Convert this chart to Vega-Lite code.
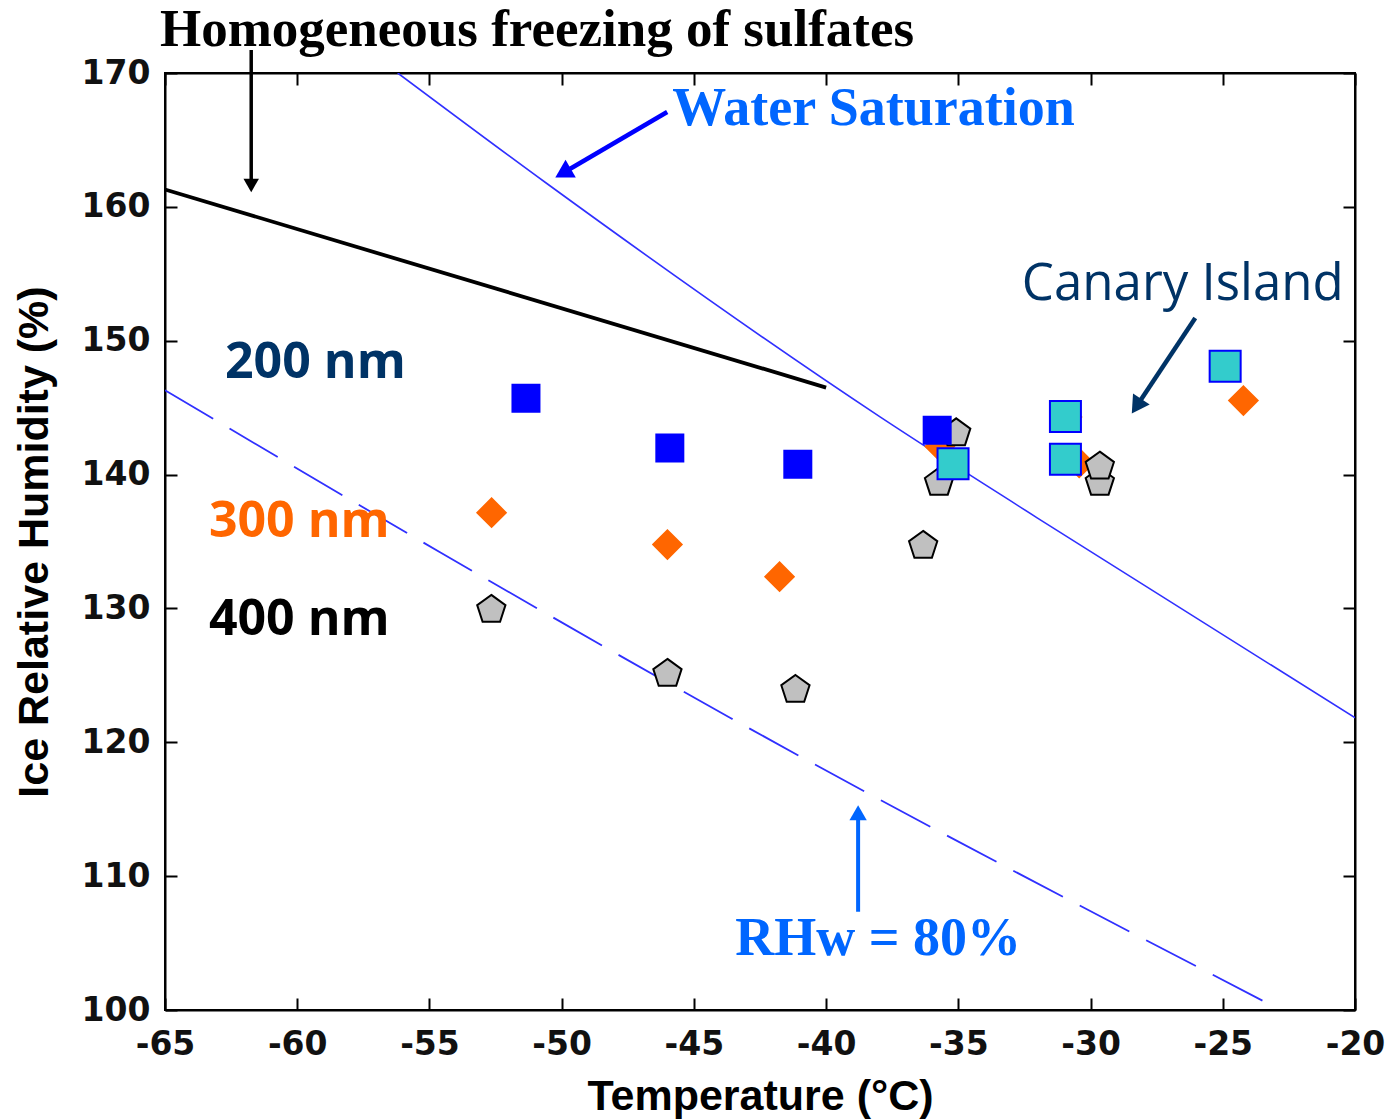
{
  "$schema": "https://vega.github.io/schema/vega-lite/v6.json",
  "width": 1190,
  "height": 937,
  "autosize": "none",
  "padding": {"left": 165, "top": 73, "right": 30, "bottom": 110},
  "background": "white",
  "config": {
    "view": {"stroke": "black", "strokeWidth": 2},
    "axis": {
      "grid": false,
      "domainColor": "black",
      "domainWidth": 2,
      "tickColor": "black",
      "tickWidth": 2,
      "tickSize": -12,
      "labelFlush": false,
      "labelOverlap": false,
      "labelFont": "DejaVu Sans",
      "labelFontSize": 33,
      "labelFontWeight": "bold",
      "labelColor": "#111111",
      "labelExpr": "toString(datum.value)",
      "titleFont": "Liberation Sans",
      "titleFontSize": 43,
      "titleFontWeight": "bold",
      "titleColor": "black"
    }
  },
  "resolve": {"axis": {"x": "independent", "y": "independent"}},
  "layer": [
    {
      "data": {"values": [{"T": -65, "RH": 161.3}, {"T": -40, "RH": 146.5}]},
      "mark": {"type": "line", "color": "black", "strokeWidth": 3.8},
      "encoding": {
        "x": {"field": "T", "type": "quantitative", "scale": {"domain": [-65, -20], "nice": false},
              "axis": {"orient": "top", "labels": false, "title": null, "values": [-65, -60, -55, -50, -45, -40, -35, -30, -25, -20]}},
        "y": {"field": "RH", "type": "quantitative", "scale": {"domain": [100, 170], "nice": false},
              "axis": {"orient": "right", "labels": false, "title": null, "values": [100, 110, 120, 130, 140, 150, 160, 170]}}
      }
    },
    {
      "data": {"values": [
        {"T": -56.2, "RH": 170.0},
        {"T": -50.6, "RH": 161.8},
        {"T": -37.96, "RH": 144.31},
        {"T": -32.02, "RH": 136.77},
        {"T": -20.0, "RH": 121.83}
      ]},
      "mark": {"type": "line", "color": "#3030ff", "strokeWidth": 1.6, "clip": true, "interpolate": "monotone"},
      "encoding": {
        "x": {"field": "T", "type": "quantitative", "axis": null},
        "y": {"field": "RH", "type": "quantitative", "axis": null}
      }
    },
    {
      "data": {"values": [
        {"T": -65.0, "RH": 146.3},
        {"T": -54.6, "RH": 134.2},
        {"T": -43.6, "RH": 121.8},
        {"T": -23.4, "RH": 100.6}
      ]},
      "mark": {"type": "line", "color": "#3030ff", "strokeWidth": 1.8, "strokeDash": [56, 19], "clip": true, "interpolate": "monotone"},
      "encoding": {
        "x": {"field": "T", "type": "quantitative", "axis": null},
        "y": {"field": "RH", "type": "quantitative", "axis": null}
      }
    },
    {
      "data": {"values": [
        {"series": "300 nm", "T": -52.65, "RH": 137.15},
        {"series": "300 nm", "T": -46.0, "RH": 134.77},
        {"series": "300 nm", "T": -41.76, "RH": 132.37},
        {"series": "300 nm", "T": -35.7, "RH": 142.1},
        {"series": "300 nm", "T": -30.89, "RH": 144.3},
        {"series": "300 nm", "T": -30.43, "RH": 140.87},
        {"series": "300 nm", "T": -24.22, "RH": 145.53},
        {"series": "400 nm", "T": -52.66, "RH": 129.9},
        {"series": "400 nm", "T": -46.0, "RH": 125.12},
        {"series": "400 nm", "T": -41.16, "RH": 123.92},
        {"series": "400 nm", "T": -36.33, "RH": 134.68},
        {"series": "400 nm", "T": -35.73, "RH": 139.4},
        {"series": "400 nm", "T": -35.08, "RH": 143.09},
        {"series": "400 nm", "T": -29.65, "RH": 139.4},
        {"series": "400 nm", "T": -29.65, "RH": 140.6},
        {"series": "200 nm", "T": -51.35, "RH": 145.71},
        {"series": "200 nm", "T": -45.91, "RH": 141.98},
        {"series": "200 nm", "T": -41.07, "RH": 140.78},
        {"series": "200 nm", "T": -35.8, "RH": 143.32},
        {"series": "Canary Island", "T": -35.2, "RH": 140.8},
        {"series": "Canary Island", "T": -30.95, "RH": 144.33},
        {"series": "Canary Island", "T": -30.95, "RH": 141.15},
        {"series": "Canary Island", "T": -24.91, "RH": 148.1}
      ]},
      "mark": {"type": "point", "filled": true, "strokeWidth": 2, "opacity": 1},
      "encoding": {
        "x": {"field": "T", "type": "quantitative",
              "axis": {"orient": "bottom", "values": [-65, -60, -55, -50, -45, -40, -35, -30, -25, -20],
                       "title": "Temperature (°C)", "labelPadding": 30, "labelBaseline": "top",
                       "titleY": 99, "titleBaseline": "alphabetic"}},
        "y": {"field": "RH", "type": "quantitative",
              "axis": {"orient": "left", "values": [100, 110, 120, 130, 140, 150, 160, 170],
                       "title": "Ice Relative Humidity (%)", "labelPadding": 27,
                       "titleX": -118, "titleBaseline": "alphabetic"}},
        "shape": {"field": "series", "type": "nominal", "legend": null,
                  "scale": {"domain": ["200 nm", "300 nm", "400 nm", "Canary Island"],
                            "range": ["square", "diamond", "M0,-1L0.951,-0.309L0.588,0.809L-0.588,0.809L-0.951,-0.309Z", "square"]}},
        "fill": {"field": "series", "type": "nominal", "legend": null,
                 "scale": {"domain": ["200 nm", "300 nm", "400 nm", "Canary Island"],
                           "range": ["#0000ff", "#ff6600", "#c0c0c0", "#33cccc"]}},
        "stroke": {"field": "series", "type": "nominal", "legend": null,
                   "scale": {"domain": ["200 nm", "300 nm", "400 nm", "Canary Island"],
                             "range": ["#0000ff", "#ff6600", "#000000", "#0000ff"]}},
        "size": {"field": "series", "type": "nominal", "legend": null,
                 "scale": {"domain": ["200 nm", "300 nm", "400 nm", "Canary Island"],
                           "range": [729, 961, 1037, 676]}}
      }
    },
    {
      "data": {"values": [
        {"T": -61.74, "RH": 171.72, "T2": -61.74, "RH2": 161.9}
      ]},
      "mark": {"type": "rule", "color": "black", "strokeWidth": 3.5},
      "encoding": {
        "x": {"field": "T", "type": "quantitative", "axis": null},
        "y": {"field": "RH", "type": "quantitative", "axis": null},
        "x2": {"field": "T2"},
        "y2": {"field": "RH2"}
      }
    },
    {
      "data": {"values": [{"T": -61.74, "RH": 161.6}]},
      "mark": {"type": "point", "shape": "triangle-down", "filled": true, "color": "black", "size": 240, "opacity": 1},
      "encoding": {
        "x": {"field": "T", "type": "quantitative", "axis": null},
        "y": {"field": "RH", "type": "quantitative", "axis": null}
      }
    },
    {
      "data": {"values": [
        {"T": -46.01, "RH": 167.09, "T2": -49.95, "RH2": 162.53}
      ]},
      "mark": {"type": "rule", "color": "#0000ff", "strokeWidth": 4.5},
      "encoding": {
        "x": {"field": "T", "type": "quantitative", "axis": null},
        "y": {"field": "RH", "type": "quantitative", "axis": null},
        "x2": {"field": "T2"},
        "y2": {"field": "RH2"}
      }
    },
    {
      "data": {"values": [{"T": -49.95, "RH": 162.53}]},
      "mark": {"type": "point", "shape": "triangle-up", "angle": 240, "filled": true, "color": "#0000ff", "size": 420, "opacity": 1},
      "encoding": {
        "x": {"field": "T", "type": "quantitative", "axis": null},
        "y": {"field": "RH", "type": "quantitative", "axis": null}
      }
    },
    {
      "data": {"values": [
        {"T": -26.04, "RH": 151.7, "T2": -28.26, "RH2": 145.11}
      ]},
      "mark": {"type": "rule", "color": "#003366", "strokeWidth": 4.5},
      "encoding": {
        "x": {"field": "T", "type": "quantitative", "axis": null},
        "y": {"field": "RH", "type": "quantitative", "axis": null},
        "x2": {"field": "T2"},
        "y2": {"field": "RH2"}
      }
    },
    {
      "data": {"values": [{"T": -28.26, "RH": 145.11}]},
      "mark": {"type": "point", "shape": "triangle-up", "angle": 213.6, "filled": true, "color": "#003366", "size": 400, "opacity": 1},
      "encoding": {
        "x": {"field": "T", "type": "quantitative", "axis": null},
        "y": {"field": "RH", "type": "quantitative", "axis": null}
      }
    },
    {
      "data": {"values": [
        {"T": -38.79, "RH": 107.34, "T2": -38.79, "RH2": 114.73}
      ]},
      "mark": {"type": "rule", "color": "#0066ff", "strokeWidth": 4},
      "encoding": {
        "x": {"field": "T", "type": "quantitative", "axis": null},
        "y": {"field": "RH", "type": "quantitative", "axis": null},
        "x2": {"field": "T2"},
        "y2": {"field": "RH2"}
      }
    },
    {
      "data": {"values": [{"T": -38.79, "RH": 114.73}]},
      "mark": {"type": "point", "shape": "triangle-up", "filled": true, "color": "#0066ff", "size": 300, "opacity": 1},
      "encoding": {
        "x": {"field": "T", "type": "quantitative", "axis": null},
        "y": {"field": "RH", "type": "quantitative", "axis": null}
      }
    },
    {
      "data": {"values": [{"T": -65.19, "RH": 172.02, "label": "Homogeneous freezing of sulfates"}]},
      "mark": {"type": "text", "font": "Liberation Serif", "fontSize": 53, "fontWeight": "bold", "align": "left", "baseline": "alphabetic", "color": "black"},
      "encoding": {
        "x": {"field": "T", "type": "quantitative", "axis": null},
        "y": {"field": "RH", "type": "quantitative", "axis": null},
        "text": {"field": "label"}
      }
    },
    {
      "data": {"values": [
        {"T": -45.82, "RH": 166.12, "label": "Water Saturation"},
        {"T": -43.44, "RH": 104.13, "label": "RHw = 80%"}
      ]},
      "mark": {"type": "text", "font": "Liberation Serif", "fontSize": 54, "fontWeight": "bold", "align": "left", "baseline": "alphabetic", "color": "#0066ff"},
      "encoding": {
        "x": {"field": "T", "type": "quantitative", "axis": null},
        "y": {"field": "RH", "type": "quantitative", "axis": null},
        "text": {"field": "label"}
      }
    },
    {
      "data": {"values": [{"T": -32.6, "RH": 153.05, "label": "Canary Island"}]},
      "mark": {"type": "text", "font": "Open Sans", "fontSize": 51, "align": "left", "baseline": "alphabetic", "color": "#003366"},
      "encoding": {
        "x": {"field": "T", "type": "quantitative", "axis": null},
        "y": {"field": "RH", "type": "quantitative", "axis": null},
        "text": {"field": "label"}
      }
    },
    {
      "data": {"values": [{"T": -62.73, "RH": 147.22, "label": "200 nm"}]},
      "mark": {"type": "text", "font": "Open Sans", "fontSize": 50, "fontWeight": "bold", "align": "left", "baseline": "alphabetic", "color": "#003366"},
      "encoding": {
        "x": {"field": "T", "type": "quantitative", "axis": null},
        "y": {"field": "RH", "type": "quantitative", "axis": null},
        "text": {"field": "label"}
      }
    },
    {
      "data": {"values": [{"T": -63.34, "RH": 135.35, "label": "300 nm"}]},
      "mark": {"type": "text", "font": "Open Sans", "fontSize": 50, "fontWeight": "bold", "align": "left", "baseline": "alphabetic", "color": "#ff6600"},
      "encoding": {
        "x": {"field": "T", "type": "quantitative", "axis": null},
        "y": {"field": "RH", "type": "quantitative", "axis": null},
        "text": {"field": "label"}
      }
    },
    {
      "data": {"values": [{"T": -63.34, "RH": 128.03, "label": "400 nm"}]},
      "mark": {"type": "text", "font": "Open Sans", "fontSize": 50, "fontWeight": "bold", "align": "left", "baseline": "alphabetic", "color": "black"},
      "encoding": {
        "x": {"field": "T", "type": "quantitative", "axis": null},
        "y": {"field": "RH", "type": "quantitative", "axis": null},
        "text": {"field": "label"}
      }
    }
  ]
}
